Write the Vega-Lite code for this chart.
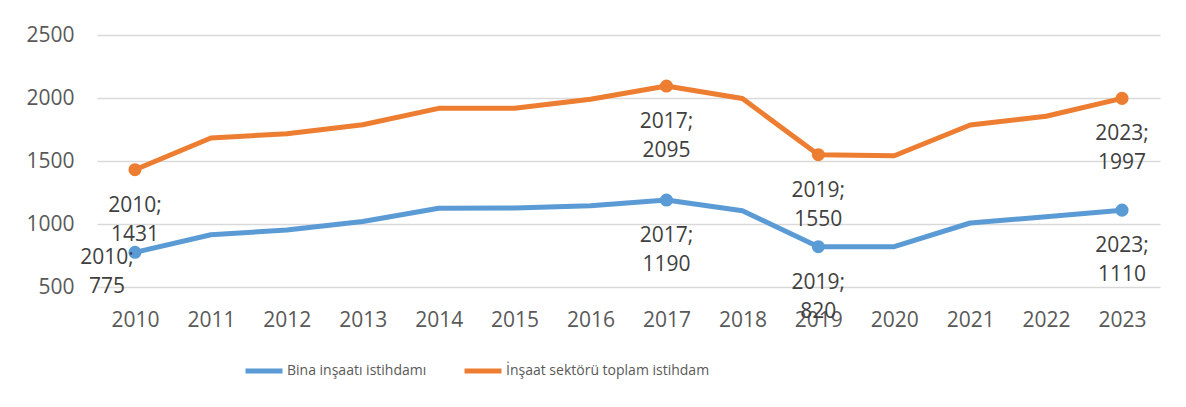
{
  "$schema": "https://vega.github.io/schema/vega-lite/v6.json",
  "width": 1063,
  "height": 252,
  "autosize": {"type": "none"},
  "padding": {"left": 97, "top": 35, "right": 26, "bottom": 120},
  "background": "white",
  "config": {"view": {"stroke": null}, "font": "Open Sans"},
  "data": {
    "values": [
      {"year": 2010, "series": "Bina inşaatı istihdamı", "value": 775},
      {"year": 2011, "series": "Bina inşaatı istihdamı", "value": 915},
      {"year": 2012, "series": "Bina inşaatı istihdamı", "value": 952},
      {"year": 2013, "series": "Bina inşaatı istihdamı", "value": 1020},
      {"year": 2014, "series": "Bina inşaatı istihdamı", "value": 1125},
      {"year": 2015, "series": "Bina inşaatı istihdamı", "value": 1127},
      {"year": 2016, "series": "Bina inşaatı istihdamı", "value": 1145},
      {"year": 2017, "series": "Bina inşaatı istihdamı", "value": 1190},
      {"year": 2018, "series": "Bina inşaatı istihdamı", "value": 1105},
      {"year": 2019, "series": "Bina inşaatı istihdamı", "value": 820},
      {"year": 2020, "series": "Bina inşaatı istihdamı", "value": 820},
      {"year": 2021, "series": "Bina inşaatı istihdamı", "value": 1008},
      {"year": 2022, "series": "Bina inşaatı istihdamı", "value": 1058},
      {"year": 2023, "series": "Bina inşaatı istihdamı", "value": 1110},
      {"year": 2010, "series": "İnşaat sektörü toplam istihdam", "value": 1431},
      {"year": 2011, "series": "İnşaat sektörü toplam istihdam", "value": 1683},
      {"year": 2012, "series": "İnşaat sektörü toplam istihdam", "value": 1716},
      {"year": 2013, "series": "İnşaat sektörü toplam istihdam", "value": 1788},
      {"year": 2014, "series": "İnşaat sektörü toplam istihdam", "value": 1918},
      {"year": 2015, "series": "İnşaat sektörü toplam istihdam", "value": 1918},
      {"year": 2016, "series": "İnşaat sektörü toplam istihdam", "value": 1990},
      {"year": 2017, "series": "İnşaat sektörü toplam istihdam", "value": 2095},
      {"year": 2018, "series": "İnşaat sektörü toplam istihdam", "value": 1996},
      {"year": 2019, "series": "İnşaat sektörü toplam istihdam", "value": 1550},
      {"year": 2020, "series": "İnşaat sektörü toplam istihdam", "value": 1542},
      {"year": 2021, "series": "İnşaat sektörü toplam istihdam", "value": 1786},
      {"year": 2022, "series": "İnşaat sektörü toplam istihdam", "value": 1855},
      {"year": 2023, "series": "İnşaat sektörü toplam istihdam", "value": 1997}
    ]
  },
  "encoding": {
    "x": {
      "field": "year", "type": "ordinal",
      "scale": {"type": "point", "padding": 0.5},
      "axis": {"title": null, "labelAngle": 0, "domain": false, "ticks": false, "grid": false, "labelPadding": 22, "labelFontSize": 21, "labelColor": "#595959", "labelFont": "Open Sans"}
    },
    "y": {
      "field": "value", "type": "quantitative",
      "scale": {"domain": [500, 2500], "nice": false, "zero": false},
      "axis": {"title": null, "values": [500, 1000, 1500, 2000, 2500], "format": "d", "domain": false, "ticks": false, "labelPadding": 23, "labelFontSize": 21, "labelColor": "#595959", "labelFont": "Open Sans", "gridColor": "#D9D9D9", "gridWidth": 1.5}
    }
  },
  "layer": [
    {
      "mark": {"type": "line", "strokeWidth": 5, "strokeCap": "round", "strokeJoin": "round"},
      "encoding": {
        "color": {
          "field": "series", "type": "nominal",
          "scale": {"domain": ["Bina inşaatı istihdamı", "İnşaat sektörü toplam istihdam"], "range": ["#5B9BD5", "#ED7D31"]},
          "legend": {"title": null, "orient": "none", "legendX": 146, "legendY": 315, "direction": "horizontal", "symbolType": "stroke", "symbolStrokeWidth": 5, "symbolSize": 1369, "labelOffset": 2, "columnPadding": 27, "labelFont": "Open Sans", "labelFontSize": 14, "labelColor": "#595959", "labelLimit": 0}
        }
      }
    },
    {
      "transform": [{"filter": "indexof([2010, 2017, 2019, 2023], datum.year) >= 0"}],
      "mark": {"type": "circle", "size": 170, "opacity": 1},
      "encoding": {
        "color": {"field": "series", "type": "nominal", "legend": null}
      }
    },
    {
      "transform": [
        {"filter": "indexof([2010, 2017, 2019, 2023], datum.year) >= 0"},
        {"filter": "!(datum.year == 2010 && datum.series == 'Bina inşaatı istihdamı')"},
        {"calculate": "[datum.year + ';', '' + datum.value]", "as": "lbl"}
      ],
      "mark": {"type": "text", "baseline": "top", "dy": 25, "lineHeight": 29, "fontSize": 21, "color": "#404040", "font": "Open Sans"},
      "encoding": {"text": {"field": "lbl"}}
    },
    {
      "transform": [
        {"filter": "datum.year == 2010 && datum.series == 'Bina inşaatı istihdamı'"},
        {"calculate": "[datum.year + ';', '' + datum.value]", "as": "lbl"}
      ],
      "mark": {"type": "text", "baseline": "top", "dy": -5, "dx": -28, "lineHeight": 29, "fontSize": 21, "color": "#404040", "font": "Open Sans"},
      "encoding": {"text": {"field": "lbl"}}
    }
  ]
}
